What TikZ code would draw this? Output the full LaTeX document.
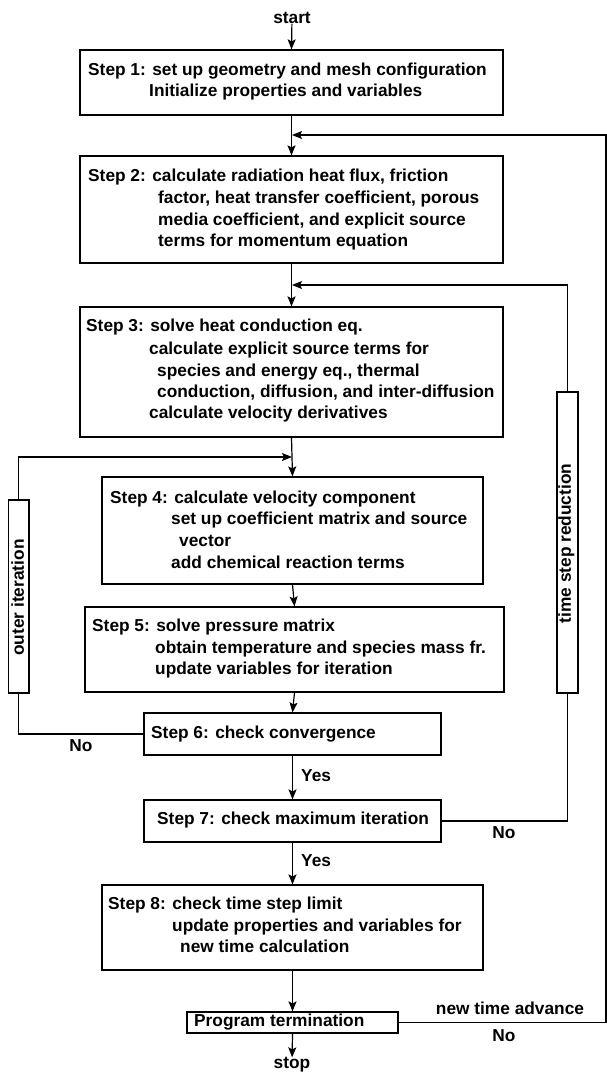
\documentclass[tikz,border=0pt]{standalone}
\usepackage{fontspec}
\setmainfont{Liberation Sans}
\usetikzlibrary{arrows.meta,fit}
\begin{document}
\begin{tikzpicture}[x=1pt,y=-1pt,
  box/.style={draw,line width=1.2pt,inner sep=0pt},
  txt/.style={anchor=mid west,inner sep=0pt,yshift=-1.5pt,font=\fontsize{17.3}{21}\selectfont\bfseries},
  ctxt/.style={anchor=center,inner sep=0pt,yshift=-1pt,font=\fontsize{17.3}{21}\selectfont\bfseries},
  ln/.style={line width=1.2pt},
  arr/.style={ln,-{Stealth[length=10pt,width=8pt,inset=2pt]}}]
\useasboundingbox (0,0) rectangle (607,1074);
% boxes
\node[box,fit={(80,50) (503,115)}] (s1) {};
\node[box,fit={(80,156) (503,263)}] (s2) {};
\node[box,fit={(80,307) (503,437)}] (s3) {};
\node[box,fit={(102,477) (483,584)}] (s4) {};
\node[box,fit={(85,607) (504,692)}] (s5) {};
\node[box,fit={(144,713) (441,755)}] (s6) {};
\node[box,fit={(144,800) (441,842)}] (s7) {};
\node[box,fit={(102,885) (483,970)}] (s8) {};
\node[box,fit={(187,1012) (398,1033)}] (pt) {};
\node[box,fit={(8.5,500) (29,693)}] (outer) {};
\node[box,fit={(557,392) (578,693)}] (tsr) {};
% texts
\node[ctxt] (start) at (292,17) {start};
\node[ctxt] (stop) at (292,1064) {stop};
\node[txt] at (88,71) {Step 1: set up geometry and mesh configuration};
\node[txt] at (149,92) {Initialize properties and variables};
\node[txt] at (88,177) {Step 2: calculate radiation heat flux, friction};
\node[txt] at (158,199) {factor, heat transfer coefficient, porous};
\node[txt] at (158,221) {media coefficient, and explicit source};
\node[txt] at (158,242) {terms for momentum equation};
\node[txt] at (86,327) {Step 3: solve heat conduction eq.};
\node[txt] at (149,350) {calculate explicit source terms for};
\node[txt] at (157,372) {species and energy eq., thermal};
\node[txt] at (157,393) {conduction, diffusion, and inter-diffusion};
\node[txt] at (149,414) {calculate velocity derivatives};
\node[txt] at (110,499) {Step 4: calculate velocity component};
\node[txt] at (171,520) {set up coefficient matrix and source};
\node[txt] at (179,542) {vector};
\node[txt] at (171,564) {add chemical reaction terms};
\node[txt] at (92,627) {Step 5: solve pressure matrix};
\node[txt] at (155,649) {obtain temperature and species mass fr.};
\node[txt] at (155,670) {update variables for iteration};
\node[txt] at (151,734) {Step 6: check convergence};
\node[txt] at (157,820) {Step 7: check maximum iteration};
\node[txt] at (108,905) {Step 8: check time step limit};
\node[txt] at (172,927) {update properties and variables for};
\node[txt] at (180,948) {new time calculation};
\node[txt] at (194,1022) {Program termination};
\node[ctxt,rotate=90,yshift=1pt] at (outer.center) {outer iteration};
\node[ctxt,rotate=90,yshift=1pt] at (tsr.center) {time step reduction};
\node[ctxt] at (510,1007) {new time advance};
\node[ctxt] at (504,1035) {No};
\node[ctxt] at (504,832) {No};
\node[ctxt] at (81,745) {No};
\node[txt] at (301,777) {Yes};
\node[txt] at (301,862) {Yes};
% junctions
\coordinate (j1) at (292,135);
\coordinate (j2) at (292,285);
\coordinate (j3) at (292,457);
% connectors
\draw[arr] (start) -- (s1.north);
\draw[arr] (s1.south) -- (s2.north);
\draw[arr] (s2.south) -- (s3.north);
\draw[arr] (s3.south) -- (s4.north);
\draw[arr] (s4.south) -- (s5.north);
\draw[arr] (s5.south) -- (s6.north);
\draw[arr] (s6.south) -- (s7.north);
\draw[arr] (s7.south) -- (s8.north);
\draw[arr] (s8.south) -- (pt.north);
\draw[arr] (pt.south) -- (stop);
\draw[arr] (pt.east) -| (606,135) -- (j1);
\draw[ln] (s7.east) -| (tsr.south);
\draw[arr] (tsr.north) |- (j2);
\draw[ln] (s6.west) -| (outer.south);
\draw[arr] (outer.north) |- (j3);
\end{tikzpicture}
\end{document}
